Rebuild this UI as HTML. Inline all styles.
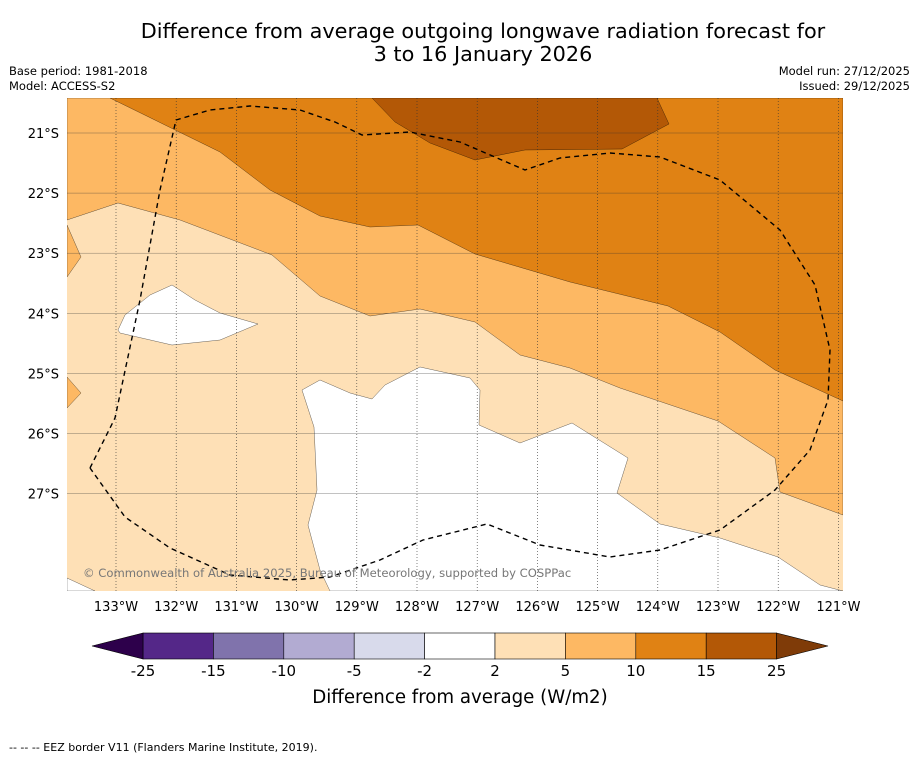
<!DOCTYPE html>
<html><head><meta charset="utf-8"><style>
body{margin:0;background:#fff;width:919px;height:758px;overflow:hidden;font-family:"Liberation Sans","DejaVu Sans",sans-serif}
</style></head><body>
<svg width="919" height="758" xmlns="http://www.w3.org/2000/svg" font-family="DejaVu Sans, Liberation Sans, sans-serif">
<text x="483" y="38" text-anchor="middle" font-size="20.8">Difference from average outgoing longwave radiation forecast for</text>
<text x="483" y="61" text-anchor="middle" font-size="20.8">3 to 16 January 2026</text>
<text x="9" y="75" font-size="11.5">Base period: 1981-2018</text>
<text x="9" y="90" font-size="11.5">Model: ACCESS-S2</text>
<text x="910" y="75" font-size="11.5" text-anchor="end">Model run: 27/12/2025</text>
<text x="910" y="90" font-size="11.5" text-anchor="end">Issued: 29/12/2025</text>
<defs><clipPath id="mc"><rect x="67" y="98" width="776" height="493"/></clipPath></defs>
<g id="map" clip-path="url(#mc)"></g>
<g id="axes"></g>
<g id="cbar"></g>
<text x="460" y="703" text-anchor="middle" font-size="18.2">Difference from average (W/m2)</text>
<text x="9" y="751" font-size="11">--  --  -- EEZ border V11 (Flanders Marine Institute, 2019).</text>
</svg>
<script>
const NS="http://www.w3.org/2000/svg";
const lonTicks=[-133,-132,-131,-130,-129,-128,-127,-126,-125,-124,-123,-122,-121];
const latTicks=[21,22,23,24,25,26,27];
const cbLevels=[-25,-15,-10,-5,-2,2,5,10,15,25];
const cbColors=["#542788","#8073ac","#b2abd2","#d8daeb","#ffffff","#fee0b6","#fdb863","#e08214","#b35806"];
const xOf=lon=>116+(lon+133)*60.2;
const yOf=lat=>133+(lat-21)*60.1;
const band5=[[67,98],[67,220],[118,203],[180,220],[272,255],[320,296],[370,316],[420,309],[475,322],[520,355],[570,368],[620,388],[718,421],[775,458],[780,492],[843,515],[843,98]];
const band5a=[[67,225],[81,257],[67,277]];
const band5b=[[67,377],[81,393],[67,408]];
const band10=[[110,98],[220,152],[270,190],[320,216],[370,227],[418,225],[475,254],[570,282],[668,306],[720,332],[775,370],[843,401],[843,98]];
const band15=[[372,98],[395,122],[430,143],[475,160],[525,150],[622,149],[669,124],[657,98]];
const white1=[[118,330],[125,315],[150,295],[172,285],[195,300],[220,313],[258,324],[220,340],[172,345],[120,333]];
const white2=[[302,390],[320,380],[350,393],[372,399],[385,385],[420,367],[470,378],[480,390],[479,425],[520,443],[572,423],[628,458],[617,493],[660,524],[720,538],[778,557],[820,585],[843,591],[330,591],[320,570],[308,525],[317,490],[314,427]];
const white3=[[67,578],[95,591],[67,591]];
const eez=[[90,468],[115,418],[140,300],[160,190],[176,120],[210,110],[250,106],[300,110],[335,122],[362,135],[410,132],[460,142],[525,170],[560,158],[610,153],[660,157],[720,180],[780,230],[815,285],[830,350],[828,400],[810,450],[775,490],[720,530],[660,550],[610,557],[540,545],[487,524],[423,540],[380,560],[330,577],[290,580],[230,575],[170,548],[125,517],[90,468]];
function el(t,a,p){const e=document.createElementNS(NS,t);for(const k in a)e.setAttribute(k,a[k]);p.appendChild(e);return e;}
const map=document.getElementById('map');
let r=el('rect',{x:67,y:98,width:776,height:493,fill:'#fee0b6'},map);


function poly(pts,fill,name){const p=el('polygon',{points:pts.map(q=>q.join(',')).join(' '),fill:fill,stroke:'#000','stroke-width':0.3},map);

}
poly(band5,'#fdb863','band-5-10');poly(band5a,'#fdb863','band-5-10-left');poly(band5b,'#fdb863','band-5-10-left-2');
poly(band10,'#e08214','band-10-15');poly(band15,'#b35806','band-15-25');
poly(white1,'#ffffff','band-neutral-1');poly(white2,'#ffffff','band-neutral-2');poly(white3,'#ffffff','band-neutral-3');
const ax=document.getElementById('axes');
lonTicks.forEach(l=>{const x=xOf(l);
const g=el('line',{x1:x,x2:x,y1:98,y2:591,stroke:'#333','stroke-width':0.6,'stroke-dasharray':'1,2'},map);


const t=el('text',{x:x,y:611,'text-anchor':'middle','font-size':13},ax);t.textContent=Math.abs(l)+'°W';

});
latTicks.forEach(l=>{const y=yOf(l);
const g=el('line',{x1:67,x2:843,y1:y,y2:y,stroke:'#333','stroke-width':0.5,opacity:0.6},map);


const t=el('text',{x:59,y:y+5,'text-anchor':'end','font-size':13},ax);t.textContent=l+'°S';

});
const ez=el('polyline',{points:eez.map(q=>q.join(',')).join(' '),fill:'none',stroke:'#000','stroke-width':1.4,'stroke-dasharray':'5,4','stroke-linejoin':'round'},map);


const cp=el('text',{x:83,y:577,'font-size':11.6,fill:'#777'},map);cp.textContent='© Commonwealth of Australia 2025, Bureau of Meteorology, supported by COSPPac';


const cb=document.getElementById('cbar');
const cx0=143,cw=70.4,cy=633,ch=26;
cbColors.forEach((c,i)=>{const b=el('rect',{x:cx0+i*cw,y:cy,width:cw,height:ch,fill:c,stroke:'#000','stroke-width':0.6},cb);

});
const cend=cx0+cbColors.length*cw;
let a1=el('polygon',{points:`${cx0},${cy} 92,${cy+ch/2} ${cx0},${cy+ch}`,fill:'#2d004b',stroke:'#000','stroke-width':0.6},cb);


let a2=el('polygon',{points:`${cend},${cy} 828,${cy+ch/2} ${cend},${cy+ch}`,fill:'#7f3b08',stroke:'#000','stroke-width':0.6},cb);


cbLevels.forEach((v,i)=>{const t=el('text',{x:cx0+i*cw,y:676,'text-anchor':'middle','font-size':15},cb);t.textContent=v;

});
</script>
</body></html>
